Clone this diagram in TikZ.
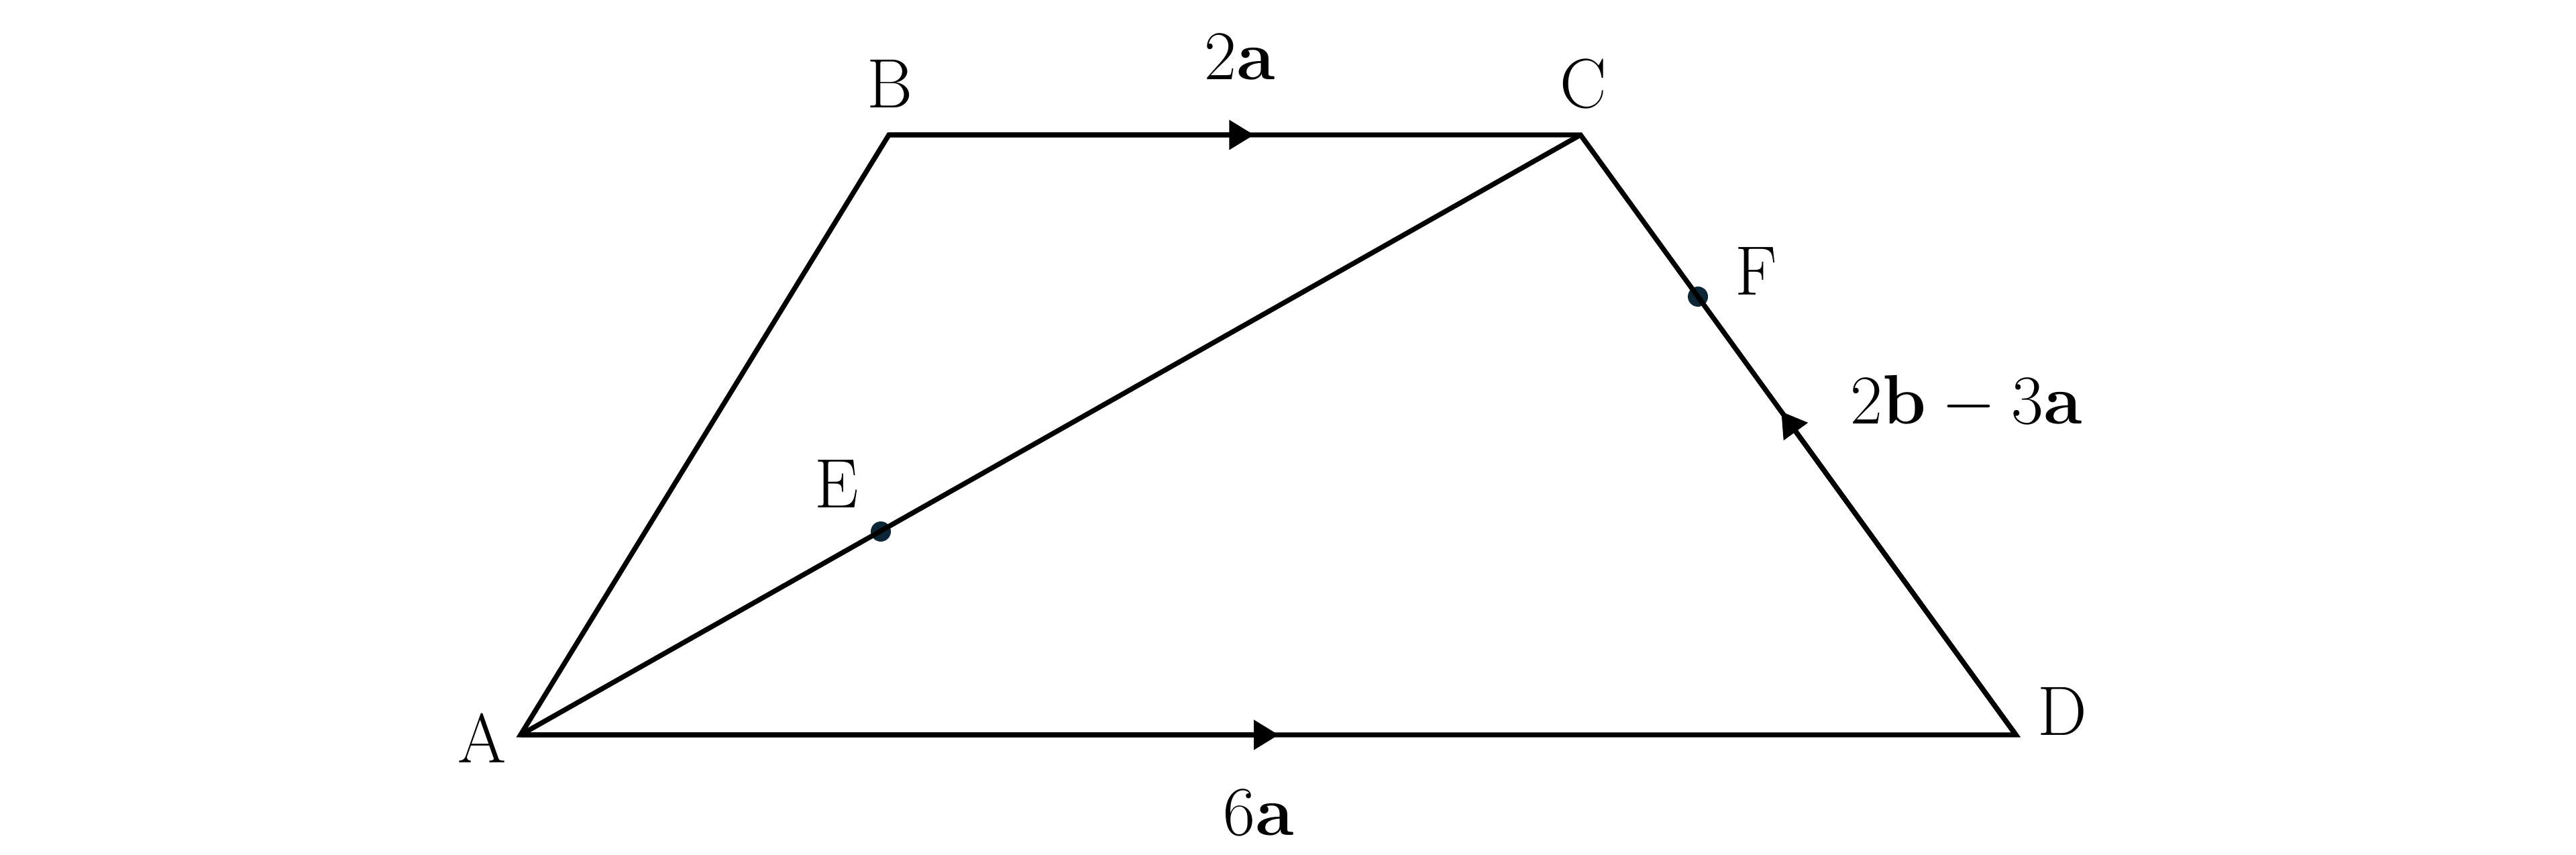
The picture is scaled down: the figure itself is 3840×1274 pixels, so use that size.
\RequirePackage{fix-cm}
\documentclass[tikz,border=0pt]{standalone}
\usetikzlibrary{arrows.meta,calc}
\definecolor{dotcol}{RGB}{12,38,54}
\begin{document}
\begin{tikzpicture}[x=0.01cm,y=-0.01cm,
  edge/.style={line width=2.1pt, line join=miter},
  tipline/.style={line width=2.1pt, -{Triangle[length=0.37cm,width=0.43cm]}},
  lbl/.style={inner sep=0pt, font=\fontsize{29.6}{35}\selectfont},
  pt/.style={circle, fill=dotcol, inner sep=0pt, minimum size=0.3cm}]
\useasboundingbox (0,0) rectangle (3840,1274);
\coordinate (A) at (776,1095);
\coordinate (B) at (1325,201);
\coordinate (C) at (2356,201);
\coordinate (D) at (3005,1095);
\coordinate (E) at (1313,792);
\coordinate (F) at (2531,442);
\node[pt] (Edot) at (E) {};
\node[pt] (Fdot) at (F) {};
\draw[edge] (A) -- (B) -- (C) -- (D) -- cycle;
\draw[edge] (A) -- (C);
\draw[tipline] (B) -- ($(B)!0.528!(C)$);
\draw[tipline] (A) -- ($(A)!0.507!(D)$);
\draw[tipline] (D) -- ($(D)!0.539!(C)$);
\node[lbl] (lA) at (719,1100) {A};
\node[lbl] (lB) at (1327,125) {B};
\node[lbl] (lC) at (2360,125) {C};
\node[lbl] (lD) at (3074,1060) {D};
\node[lbl] (lE) at (1247,721) {E};
\node[lbl] (lF) at (2618,404) {F};
\node[lbl] (l2a) at (1848,85) {$2\mathbf{a}$};
\node[lbl] (l6a) at (1876,1211) {$6\mathbf{a}$};
\node[lbl] (lCD) at (2931,600) {$2\mathbf{b}-3\mathbf{a}$};
\end{tikzpicture}
\end{document}
